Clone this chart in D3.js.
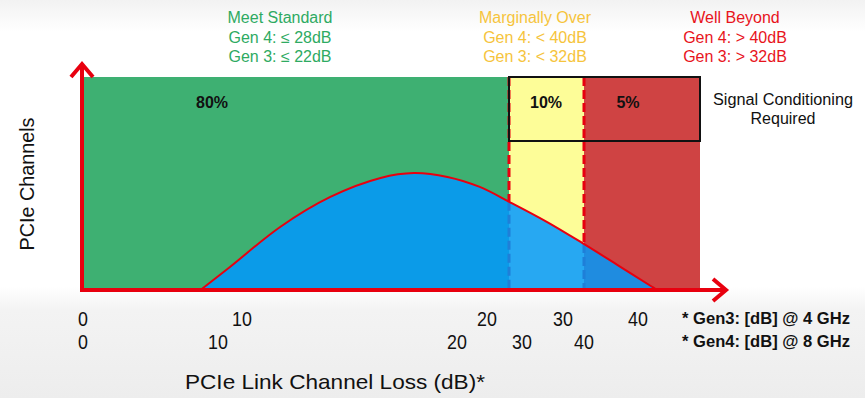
<!DOCTYPE html>
<html>
<head>
<meta charset="utf-8">
<script src="https://cdn.jsdelivr.net/npm/d3@7"></script>
<style>
  body { margin: 0; background: #fff; }
  svg { display: block; font-family: "Liberation Sans", Arial, sans-serif; }
</style>
</head>
<body>
<svg id="chart" width="865" height="398"></svg>
<script>
// zones along the loss axis (Gen4 dB)
const zones = [
  { name: "Meet Standard", from: 0, to: 28, color: "#3eb072", pct: "80%", lines: ["Gen 4: \u2264 28dB", "Gen 3: \u2264 22dB"], textColor: "#2eaa62" },
  { name: "Marginally Over", from: 28, to: 40, color: "#fdfd98", pct: "10%", lines: ["Gen 4: < 40dB", "Gen 3: < 32dB"], textColor: "#f6c43c" },
  { name: "Well Beyond", from: 40, to: 50, color: "#cf4343", pct: "5%", lines: ["Gen 4: > 40dB", "Gen 3: > 32dB"], textColor: "#e8141c" }
];
const blueFills = ["#0b9be8", "#27a8f2", "#1f8ce0"];

// distribution of channels (x in Gen4 dB, y in % of height)
const curveLoss = [8.7, 10.5, 12.6, 14.7, 16.8, 18.2, 19.6, 23.5, 28.1, 34, 39.7, 42.9, 45.9, 46.3];
const curveCount = [0, 10.8, 29.6, 43.7, 52.6, 54.9, 53.1, 48.4, 41.3, 32, 22.1, 11.7, 1.4, 0];

// tick labels, two rows
const gen3Ticks = [0, 10, 20, 30, 40];
const gen4Ticks = [0, 10, 20, 30, 40];

const svg = d3.select("#chart");

// background shading like the slide
const defs = svg.append("defs");
const grad = defs.append("linearGradient").attr("id", "bg").attr("x1", 0).attr("y1", 0).attr("x2", 0).attr("y2", 1);
grad.append("stop").attr("offset", "0%").attr("stop-color", "#f2f2f2");
grad.append("stop").attr("offset", "8%").attr("stop-color", "#ffffff");
grad.append("stop").attr("offset", "72%").attr("stop-color", "#ffffff");
grad.append("stop").attr("offset", "78%").attr("stop-color", "#f3f3f3");
grad.append("stop").attr("offset", "100%").attr("stop-color", "#ededed");
svg.append("rect").attr("width", 865).attr("height", 398).attr("fill", "url(#bg)");

// the axis is not linear on the slide, so piecewise scales
const x = d3.scaleLinear().domain([0, 10, 20, 30, 40, 50]).range([83, 218, 457, 522, 584, 700]);
const x3 = d3.scaleLinear().domain([0, 10, 20, 30, 40]).range([83, 242, 487, 563, 638]);
const y = d3.scaleLinear().domain([0, 100]).range([290, 77]);

// zone blocks
svg.selectAll("rect.zone").data(zones).enter().append("rect")
  .attr("x", d => x(d.from)).attr("y", y(100))
  .attr("width", d => x(d.to) - x(d.from)).attr("height", y(0) - y(100))
  .attr("fill", d => d.color);

// blue curve, clipped per zone for the shading
const pts = curveLoss.map((v, i) => [v, curveCount[i]]);
const area = d3.area().x(d => x(d[0])).y0(y(0)).y1(d => y(d[1])).curve(d3.curveCatmullRom);
const line = d3.line().x(d => x(d[0])).y(d => y(d[1])).curve(d3.curveCatmullRom);

zones.forEach((z, i) => {
  defs.append("clipPath").attr("id", "clip" + i).append("rect")
    .attr("x", x(z.from)).attr("y", 0).attr("width", x(z.to) - x(z.from)).attr("height", 398);
  svg.append("path").datum(pts).attr("d", area).attr("fill", blueFills[i]).attr("clip-path", "url(#clip" + i + ")");
});

// dashed boundaries: red above the curve, dark blue inside it
const bounds = [28, 40];
const curvePath = svg.append("path").datum(pts).attr("d", line).attr("fill", "none").attr("stroke", "none");
function curveYAt(px) {
  const node = curvePath.node(), len = node.getTotalLength();
  let lo = 0, hi = len;
  for (let k = 0; k < 40; k++) {
    const mid = (lo + hi) / 2;
    if (node.getPointAtLength(mid).x < px) lo = mid; else hi = mid;
  }
  return node.getPointAtLength(lo).y;
}
bounds.forEach(b => {
  const cy = curveYAt(x(b));
  svg.append("line").attr("x1", x(b)).attr("x2", x(b)).attr("y1", y(100)).attr("y2", cy)
    .attr("stroke", "#e8000f").attr("stroke-width", 3).attr("stroke-dasharray", "9,4");
  svg.append("line").attr("x1", x(b)).attr("x2", x(b)).attr("y1", cy).attr("y2", y(0))
    .attr("stroke", "#1f7fd8").attr("stroke-width", 3).attr("stroke-dasharray", "9,4");
});

// curve outline
svg.append("path").datum(pts).attr("d", line).attr("fill", "none").attr("stroke", "#e8000f").attr("stroke-width", 2);

// signal conditioning box
svg.append("rect").attr("x", x(28)).attr("y", y(100)).attr("width", x(50) - x(28)).attr("height", 64)
  .attr("fill", "none").attr("stroke", "#111").attr("stroke-width", 2);
svg.append("text").attr("x", 783).attr("y", 105).attr("text-anchor", "middle").attr("font-size", 16).attr("fill", "#111")
  .attr("textLength", 140).attr("lengthAdjust", "spacingAndGlyphs").text("Signal Conditioning");
svg.append("text").attr("x", 783).attr("y", 124).attr("text-anchor", "middle").attr("font-size", 16).attr("fill", "#111")
  .text("Required");

// percentages
const pctX = [212, 546, 628];
svg.selectAll("text.pct").data(zones).enter().append("text")
  .attr("x", (d, i) => pctX[i]).attr("y", 108).attr("text-anchor", "middle")
  .attr("font-size", 16).attr("font-weight", "bold").attr("fill", "#111")
  .text(d => d.pct);

// zone headers
const headX = [280, 535, 735];
zones.forEach((z, i) => {
  [z.name].concat(z.lines).forEach((t, j) => {
    svg.append("text").attr("x", headX[i]).attr("y", 23 + j * 19.5).attr("text-anchor", "middle")
      .attr("font-size", 16).attr("fill", z.textColor).text(t);
  });
});

// axes with arrow heads
const red = "#e8000f";
svg.append("line").attr("x1", 82).attr("x2", 82).attr("y1", 291).attr("y2", 64).attr("stroke", red).attr("stroke-width", 4);
svg.append("path").attr("d", "M71,77 L82,64 L93,77").attr("fill", "none").attr("stroke", red).attr("stroke-width", 4);
svg.append("line").attr("x1", 80).attr("x2", 725).attr("y1", 290).attr("y2", 290).attr("stroke", red).attr("stroke-width", 4);
svg.append("path").attr("d", "M713,279 L726,290 L713,301").attr("fill", "none").attr("stroke", red).attr("stroke-width", 4);

// tick label rows (narrow look via horizontal squeeze)
svg.selectAll("text.t3").data(gen3Ticks).enter().append("text")
  .attr("transform", d => `translate(${x3(d)},326) scale(0.85,1)`).attr("text-anchor", "middle")
  .attr("font-size", 21).attr("fill", "#111").text(d => d);
svg.selectAll("text.t4").data(gen4Ticks).enter().append("text")
  .attr("transform", d => `translate(${x(d)},349) scale(0.85,1)`).attr("text-anchor", "middle")
  .attr("font-size", 21).attr("fill", "#111").text(d => d);

svg.append("text").attr("x", 682).attr("y", 324).attr("font-size", 17).attr("font-weight", "bold")
  .attr("textLength", 168).attr("lengthAdjust", "spacingAndGlyphs").attr("fill", "#111").text("* Gen3: [dB] @ 4 GHz");
svg.append("text").attr("x", 682).attr("y", 347).attr("font-size", 17).attr("font-weight", "bold")
  .attr("textLength", 168).attr("lengthAdjust", "spacingAndGlyphs").attr("fill", "#111").text("* Gen4: [dB] @ 8 GHz");

// axis titles
svg.append("text").attr("x", 185).attr("y", 389).attr("font-size", 21)
  .attr("textLength", 300).attr("lengthAdjust", "spacingAndGlyphs")
  .attr("fill", "#111").text("PCIe Link Channel Loss (dB)*");
svg.append("text").attr("transform", "translate(34,184) rotate(-90)").attr("text-anchor", "middle")
  .attr("font-size", 20).attr("textLength", 133).attr("lengthAdjust", "spacingAndGlyphs")
  .attr("fill", "#111").text("PCIe Channels");
</script>
</body>
</html>
